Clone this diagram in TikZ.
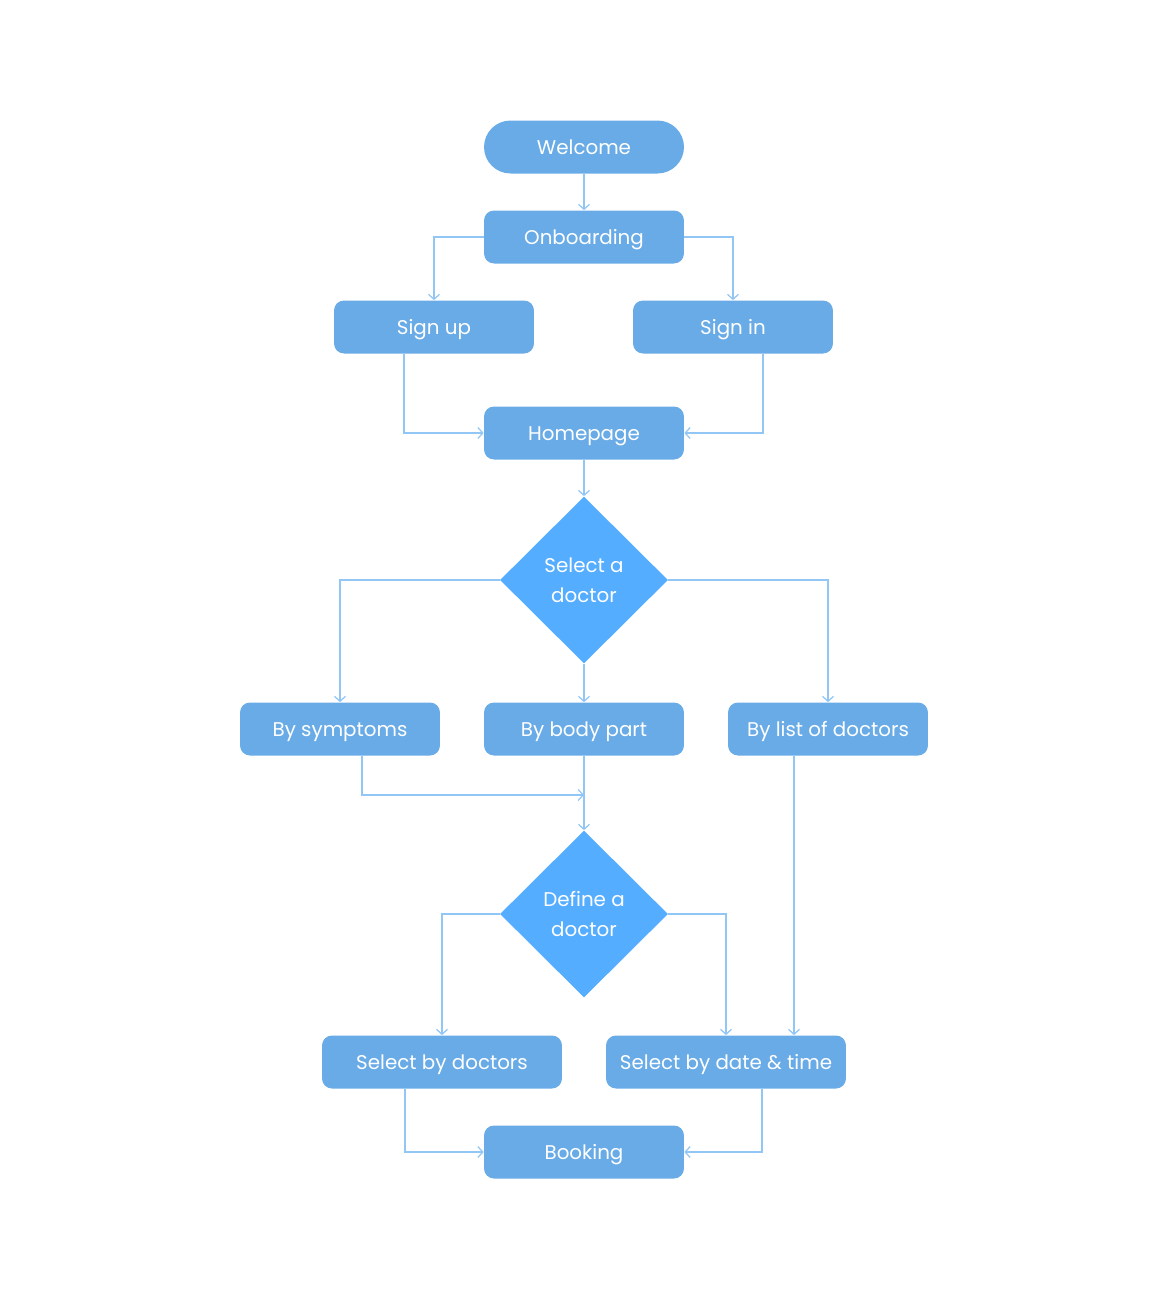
\documentclass[tikz,border=0pt]{standalone}
\usepackage{fontspec}
\setmainfont{Poppins}
\usetikzlibrary{shapes.geometric,arrows.meta,calc}
\definecolor{boxblue}{HTML}{69ABE6}
\definecolor{diablue}{HTML}{55ADFF}
\definecolor{lineblue}{HTML}{92C7F5}
\tikzset{%
  box/.style={fill=boxblue, text=white, rounded corners=0.2cm, minimum width=4cm,
              minimum height=1.06cm, inner sep=0pt, text height=1.02em, text depth=0.18em,
              font=\fontsize{11.3}{17}\selectfont},
  widebox/.style={box, minimum width=4.8cm},
  pill/.style={box, rounded corners=0.53cm},
  choice/.style={diamond, fill=diablue, text=white, minimum width=3.36cm, minimum height=3.34cm,
                 inner sep=0pt, align=center, font=\fontsize{11.3}{17}\selectfont},
  flow/.style={draw=lineblue, line width=0.7pt, -{Straight Barb[length=1mm,width=2.2mm]}},
}

\begin{document}
\begin{tikzpicture}[x=0.02cm, y=-0.02cm]
    \useasboundingbox (0,0) rectangle (1168,1299);

    % boxes
    \node[pill] (wel) at (584,147) {Welcome};
    \node[box] (ob) at (584,237) {Onboarding};
    \node[box] (su) at (434,327) {Sign up};
    \node[box] (si) at (733,327) {Sign in};
    \node[box] (home) at (584,433) {Homepage};
    \node[choice] (sel) at (584,580) {Select a\\doctor};
    \node[box] (bs) at (340,729) {By symptoms};
    \node[box] (bb) at (584,729) {By body part};
    \node[box] (bl) at (828,729) {By list of doctors};
    \node[choice] (def) at (584,914) {Define a\\doctor};
    \node[widebox] (sd) at (442,1062) {Select by doctors};
    \node[widebox] (st) at (726,1062) {Select by date \& time};
    \node[box] (book) at (584,1152) {Booking};

    \coordinate (merge) at (584,795);
    \coordinate (listin) at ($(st.north)+(68,0)$);

    % connectors
    \draw[flow] (wel) -- (ob);
    \draw[flow] (ob.west) -| (su.north);
    \draw[flow] (ob.east) -| (si.north);
    \draw[flow] ($(su.south)+(-30,0)$) |- (home.west);
    \draw[flow] ($(si.south)+(30,0)$) |- (home.east);
    \draw[flow] (home) -- (sel);

    \draw[flow] (sel.west) -| (bs.north);
    \draw[flow] (sel.east) -| (bl.north);
    \draw[flow] (sel) -- (bb);
    \draw[flow] ($(bs.south)+(22,0)$) |- (merge);
    \draw[flow] (bb) -- (def);

    \draw[flow] (def.west) -| (sd.north);
    \draw[flow] (def.east) -| (st.north);
    \draw[flow] ($(bl.south)+(-34,0)$) -- (listin);
    \draw[flow] ($(sd.south)+(-37,0)$) |- (book.west);
    \draw[flow] ($(st.south)+(36,0)$) |- (book.east);
\end{tikzpicture}
\end{document}
